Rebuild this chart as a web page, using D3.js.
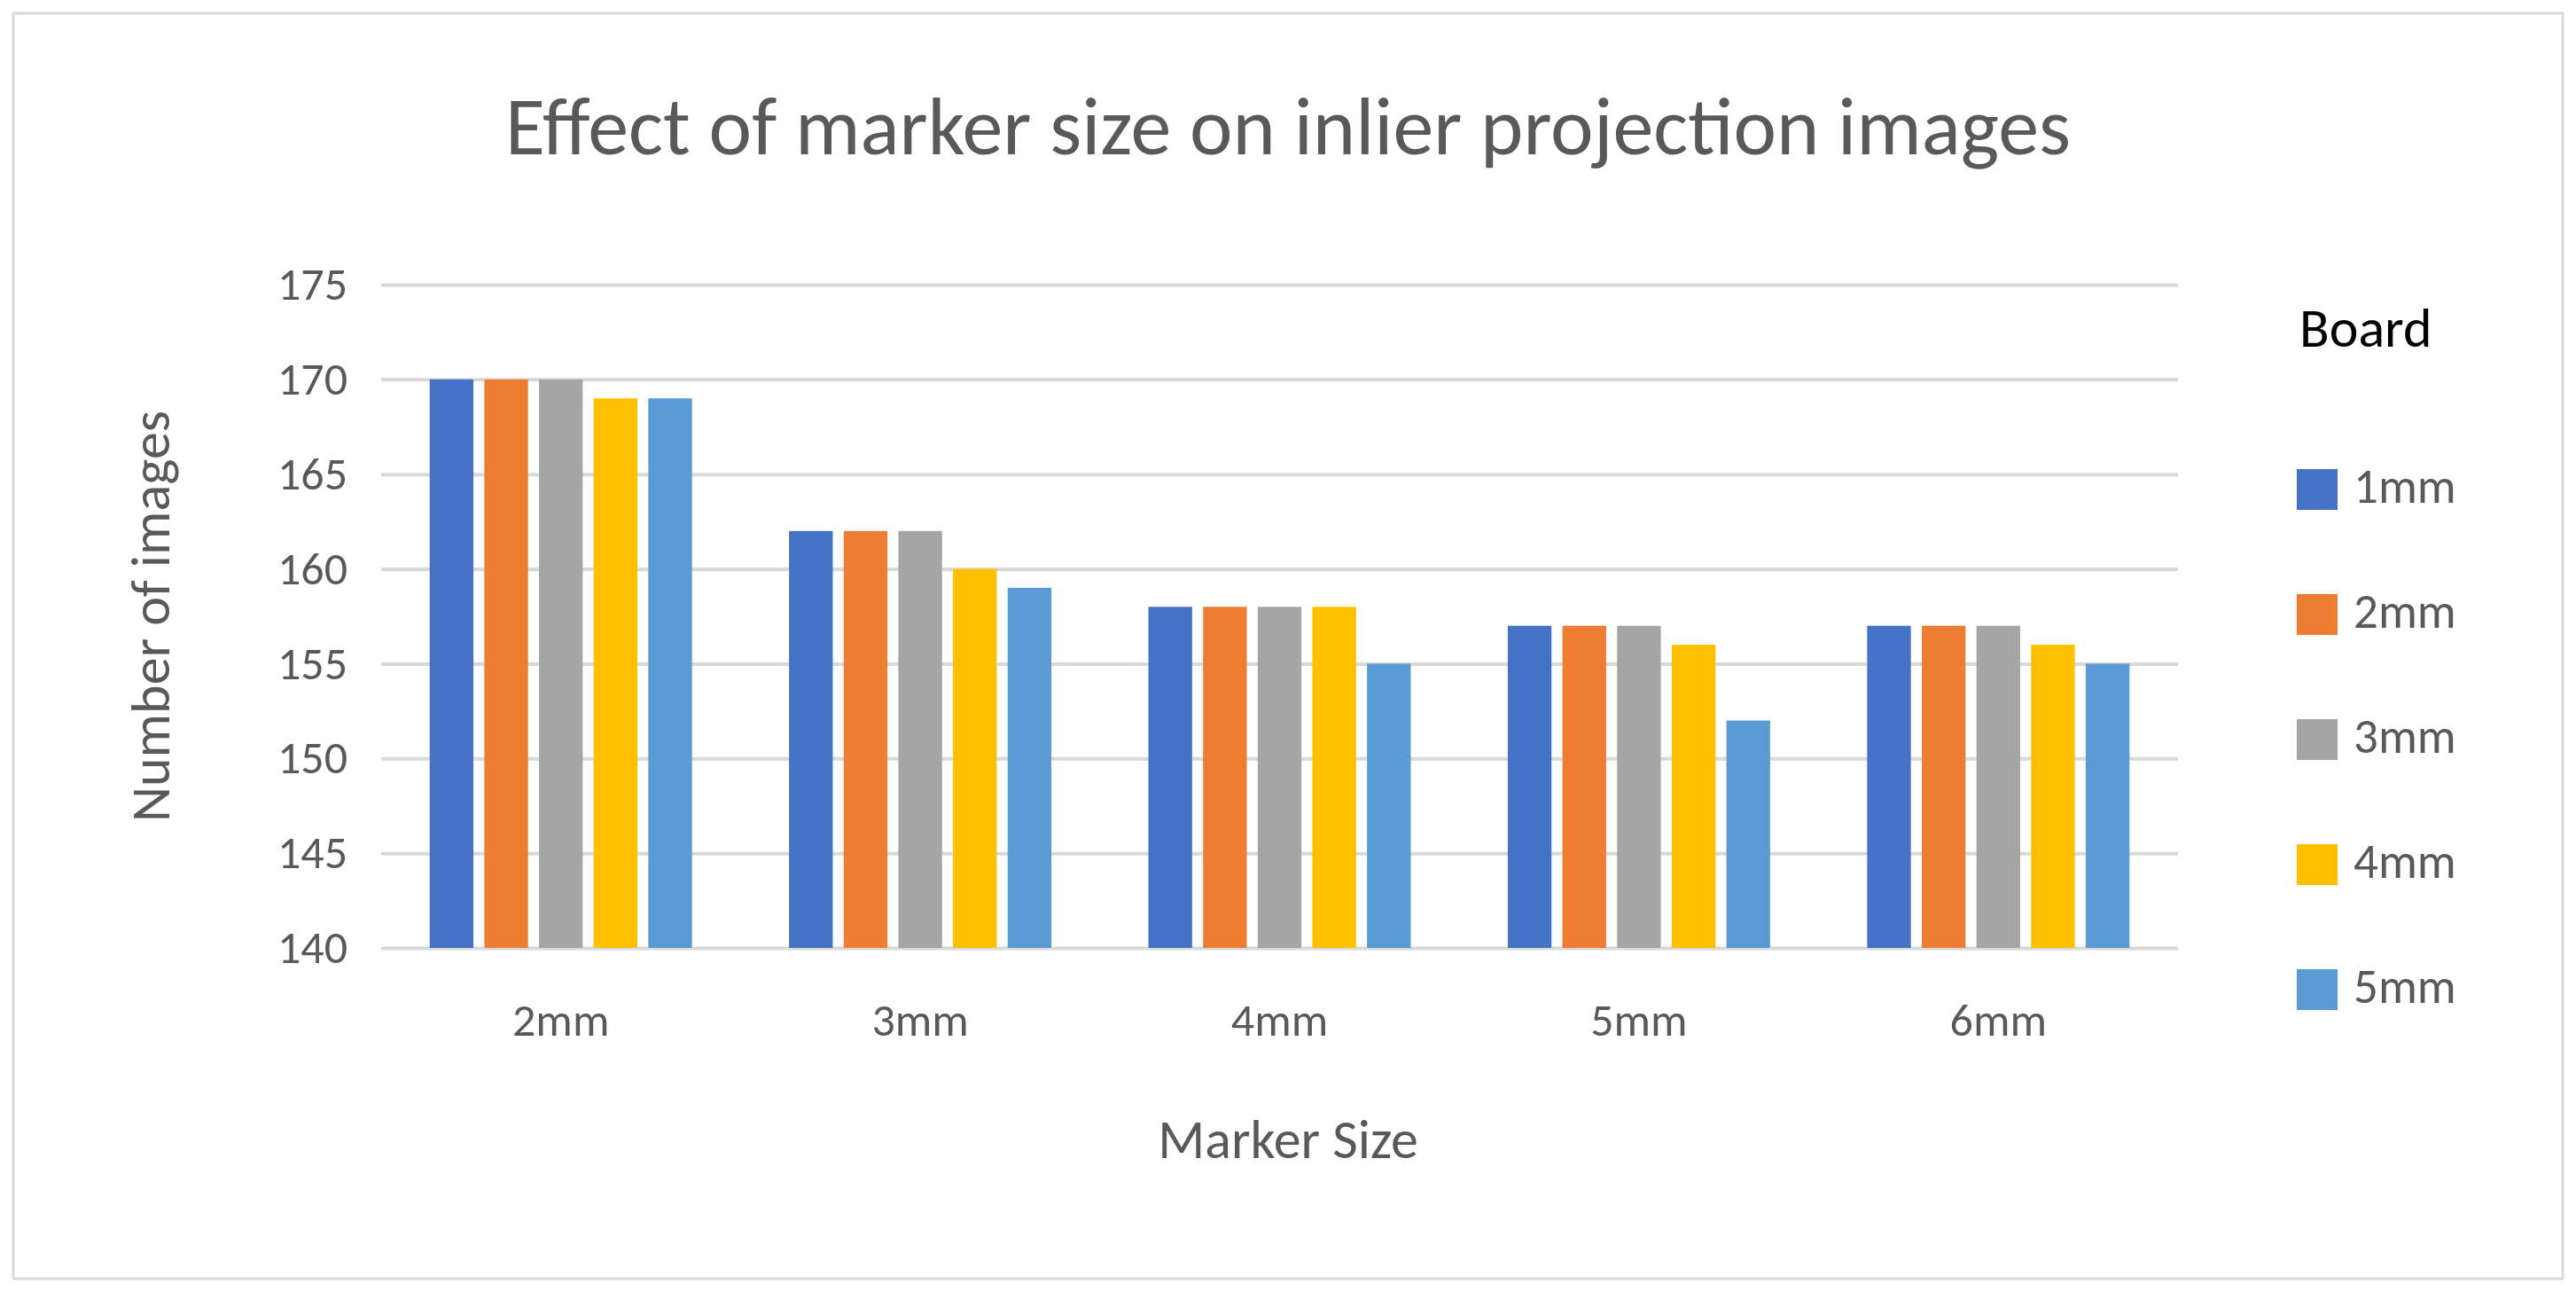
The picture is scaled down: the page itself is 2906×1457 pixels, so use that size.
<!DOCTYPE html>
<html><head><meta charset="utf-8">
<script src="https://cdn.jsdelivr.net/npm/d3@7"></script>
<style>body{margin:0;background:#fff}text{font-family:Calibri,Carlito,"Open Sans",sans-serif;fill:#595959}</style>
</head><body>
<script>
var categories = ["2mm", "3mm", "4mm", "5mm", "6mm"];
var boards = ["1mm", "2mm", "3mm", "4mm", "5mm"];
var board1 = [170, 162, 158, 157, 157];
var board2 = [170, 162, 158, 157, 157];
var board3 = [170, 162, 158, 157, 157];
var board4 = [169, 160, 158, 156, 156];
var board5 = [169, 159, 155, 152, 155];
var yTicks = [140, 145, 150, 155, 160, 165, 170, 175];
var colors = ["#4472C4", "#ED7D31", "#A5A5A5", "#FFC000", "#5B9BD5"];
var series = [board1, board2, board3, board4, board5];

var W = 2906, H = 1457;
var margin = {top: 321, left: 430, right: 449, bottom: 388};
var width = W - margin.left - margin.right, height = H - margin.top - margin.bottom;

var svg = d3.select("body").append("svg").attr("width", W).attr("height", H);
svg.append("rect").attr("x", 15).attr("y", 15).attr("width", W - 30).attr("height", H - 30)
  .attr("fill", "#fff").attr("stroke", "#D9D9D9").attr("stroke-width", 3);

var g = svg.append("g").attr("transform", "translate(" + margin.left + "," + margin.top + ")");

var x = d3.scaleBand().domain(categories).range([0, width]).paddingInner(0.27).paddingOuter(0.135);
var xs = d3.scaleBand().domain(boards).range([0, x.bandwidth()]).paddingInner(0.2);
var y = d3.scaleLinear().domain([140, 175]).range([height, 0]);

// gridlines
g.append("g").call(d3.axisLeft(y).tickValues(yTicks).tickSize(-width).tickFormat(""))
  .call(function(a) { a.select(".domain").remove(); a.selectAll("line").attr("stroke", "#D9D9D9").attr("stroke-width", 4); });

// bars
boards.forEach(function(b, i) {
  g.selectAll(".bar" + i).data(series[i]).enter().append("rect")
    .attr("x", function(d, j) { return x(categories[j]) + xs(b); })
    .attr("y", function(d) { return y(d); })
    .attr("width", xs.bandwidth())
    .attr("height", function(d) { return height - y(d); })
    .attr("fill", colors[i]);
});

// y axis labels
var ya = g.append("g").call(d3.axisLeft(y).tickValues(yTicks).tickSize(0).tickPadding(38));
ya.select(".domain").remove();
ya.selectAll("text").style("font-size", "52px").attr("fill", "#595959");

// x axis
var xa = g.append("g").attr("transform", "translate(0," + height + ")").call(d3.axisBottom(x).tickSize(0).tickPadding(62));
xa.select(".domain").remove();
xa.selectAll("text").style("font-size", "52px").attr("fill", "#595959");

svg.append("text").attr("x", 1453).attr("y", 152).attr("text-anchor", "middle")
  .attr("dominant-baseline", "middle").style("font-size", "92px").text("Effect of marker size on inlier projection images");
svg.append("text").attr("x", 1453).attr("y", 1291).attr("text-anchor", "middle")
  .attr("dominant-baseline", "middle").style("font-size", "62px").text("Marker Size");
svg.append("text").attr("transform", "translate(176," + (margin.top + height / 2) + ") rotate(-90)")
  .attr("text-anchor", "middle").attr("dominant-baseline", "middle").style("font-size", "62px").text("Number of images");

// legend
svg.append("text").attr("x", 2594).attr("y", 376).attr("dominant-baseline", "middle")
  .style("font-size", "62px").attr("fill", "#000").style("fill", "#000").text("Board");
var lg = svg.selectAll(".lg").data(boards).enter().append("g")
  .attr("transform", function(d, i) { return "translate(2591," + (552 + i * 141) + ")"; });
lg.append("rect").attr("x", 0).attr("y", -23).attr("width", 46).attr("height", 46)
  .attr("fill", function(d, i) { return colors[i]; });
lg.append("text").attr("x", 64).attr("y", 2).attr("dominant-baseline", "middle")
  .style("font-size", "55px").text(function(d) { return d; });
</script>
</body></html>
